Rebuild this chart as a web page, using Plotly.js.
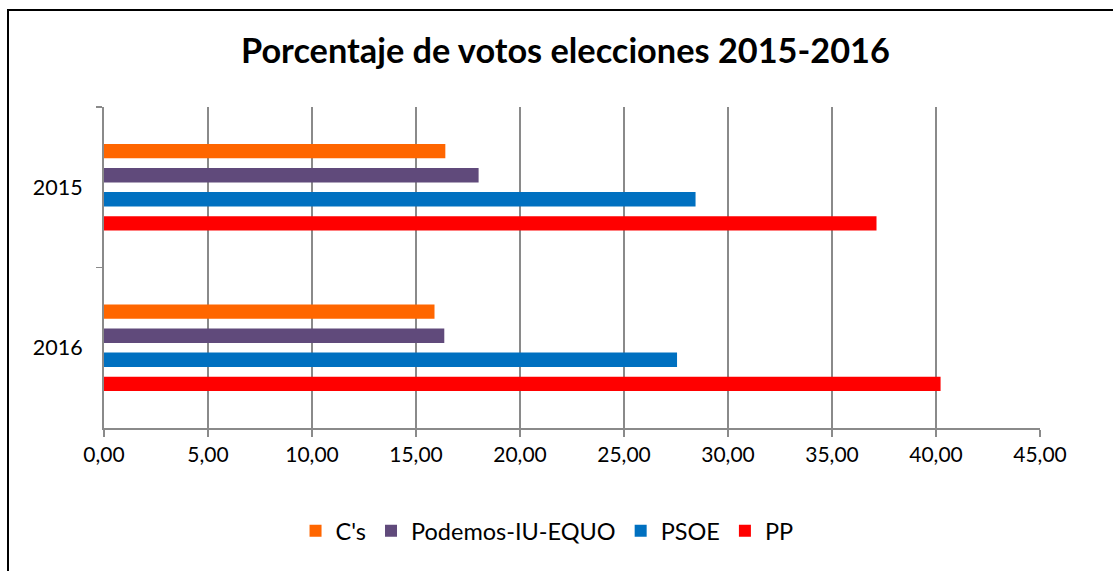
<!DOCTYPE html>
<html>
<head>
<meta charset="utf-8">
<script src="https://cdn.plot.ly/plotly-3.0.1.min.js"></script>
<style>
  html, body { margin: 0; padding: 0; background: #fff; }
  #chart { width: 1113px; height: 571px; }
  #frame { position: absolute; left: 7px; top: 9px; width: 1200px; height: 700px;
           border-left: 2px solid #000; border-top: 2px solid #000; pointer-events: none; }
</style>
</head>
<body>
<div id="chart"></div>
<div id="frame"></div>
<script>
const years = ['2015', '2016'];
const seriesNames = ["C's", 'Podemos-IU-EQUO', 'PSOE', 'PP'];
const cs = [16.41, 15.89];
const podemos = [18.01, 16.36];
const psoe = [28.44, 27.55];
const pp = [37.14, 40.22];
const colors = ['#FF6600', '#604A7B', '#0070C0', '#FF0000'];
const xTickVals = [0, 5, 10, 15, 20, 25, 30, 35, 40, 45];

const FONT = 'Lato, "Open Sans", sans-serif';
const seriesValues = [cs, podemos, psoe, pp];

const traces = seriesNames.map((name, i) => ({
  type: 'bar',
  orientation: 'h',
  name: name,
  y: years,
  x: seriesValues[i],
  marker: { color: colors[i], line: { width: 0 } },
  hoverinfo: 'x+name'
}));

const layout = {
  width: 1113,
  height: 571,
  paper_bgcolor: '#ffffff',
  plot_bgcolor: '#ffffff',
  separators: ',.',
  margin: { l: 104, r: 73, t: 107, b: 143 },
  barmode: 'group',
  bargap: 0.4,
  bargroupgap: 0.4,
  font: { family: FONT, color: '#000000', size: 21 },
  title: {
    text: 'Porcentaje de votos elecciones 2015-2016',
    font: { family: FONT, size: 34.3, color: '#000000', weight: 'bold' },
    x: 0.508, xref: 'container', xanchor: 'center',
    y: 0.91, yref: 'container', yanchor: 'middle'
  },
  xaxis: {
    range: [0, 45],
    tickmode: 'array',
    tickvals: xTickVals,
    tickformat: '.2f',
    showgrid: true,
    gridcolor: '#8a8a8a',
    gridwidth: 1.5,
    zeroline: false,
    showline: true,
    linecolor: '#8a8a8a',
    linewidth: 2,
    ticks: 'outside',
    ticklen: 7,
    tickwidth: 1.5,
    tickcolor: '#8a8a8a',
    tickfont: { family: FONT, size: 21, color: '#000' },
    fixedrange: true
  },
  yaxis: {
    type: 'category',
    autorange: 'reversed',
    tickson: 'boundaries',
    showgrid: false,
    zeroline: false,
    showline: true,
    linecolor: '#8a8a8a',
    linewidth: 2,
    ticks: 'outside',
    ticklen: 6,
    tickwidth: 1.5,
    tickcolor: '#8a8a8a',
    ticklabelstandoff: 15,
    tickfont: { family: FONT, size: 21.5, color: '#000' },
    fixedrange: true
  },
  showlegend: true,
  legend: {
    orientation: 'h',
    xref: 'container', x: 0.4915, xanchor: 'center',
    yref: 'container', y: 0.07, yanchor: 'middle',
    font: { family: FONT, size: 23.5, color: '#000' },
    itemwidth: 30,
    bgcolor: 'rgba(0,0,0,0)'
  }
};

Plotly.newPlot('chart', traces, layout, { displayModeBar: false, staticPlot: true });
</script>
</body>
</html>
